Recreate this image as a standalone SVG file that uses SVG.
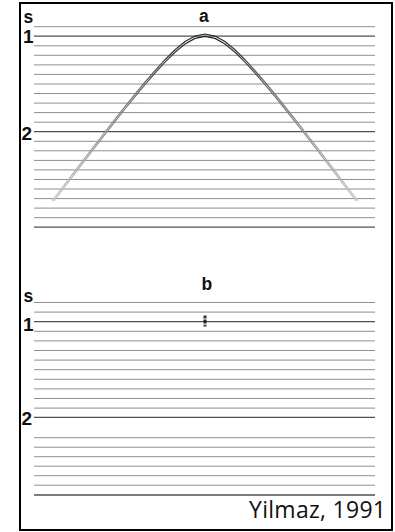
<svg xmlns="http://www.w3.org/2000/svg" width="395" height="532" viewBox="0 0 395 532">
  <defs>
    <style>
      .ln { stroke: #8e8e8e; stroke-width: 1; fill: none; }
      .lk { stroke: #505050; stroke-width: 1.3; fill: none; }
      .lab { font-family: "Liberation Sans", Arial, sans-serif; font-weight: bold; font-size: 19px; fill: #111; }
      .cap { font-family: "Liberation Sans", Arial, sans-serif; font-weight: bold; font-size: 17.5px; fill: #111; }
      .crv { fill: none; stroke: url(#fade); stroke-width: 1.2; }
    </style>
    <linearGradient id="fade" gradientUnits="userSpaceOnUse" x1="0" y1="34" x2="0" y2="202">
      <stop offset="0" stop-color="#222"/>
      <stop offset="0.4" stop-color="#777"/>
      <stop offset="1" stop-color="#c8c8c8"/>
    </linearGradient>
  </defs>
  <rect x="0" y="0" width="395" height="532" fill="#fff"/>
  <rect id="frame" x="20" y="3" width="372" height="527" fill="none" stroke="#000" stroke-width="2"/>

  <g id="panel-a">
    <g id="lines-a">
      <line class="ln" x1="34" y1="26.7" x2="375" y2="26.7"/>
      <line class="lk" x1="34" y1="36.2" x2="375" y2="36.2"/>
      <line class="ln" x1="34" y1="45.8" x2="375" y2="45.8"/>
      <line class="ln" x1="34" y1="55.3" x2="375" y2="55.3"/>
      <line class="ln" x1="34" y1="64.9" x2="375" y2="64.9"/>
      <line class="ln" x1="34" y1="74.4" x2="375" y2="74.4"/>
      <line class="ln" x1="34" y1="84.0" x2="375" y2="84.0"/>
      <line class="ln" x1="34" y1="93.5" x2="375" y2="93.5"/>
      <line class="ln" x1="34" y1="103.1" x2="375" y2="103.1"/>
      <line class="ln" x1="34" y1="112.6" x2="375" y2="112.6"/>
      <line class="ln" x1="34" y1="122.2" x2="375" y2="122.2"/>
      <line class="lk" x1="34" y1="131.7" x2="375" y2="131.7"/>
      <line class="ln" x1="34" y1="141.3" x2="375" y2="141.3"/>
      <line class="ln" x1="34" y1="150.8" x2="375" y2="150.8"/>
      <line class="ln" x1="34" y1="160.4" x2="375" y2="160.4"/>
      <line class="ln" x1="34" y1="169.9" x2="375" y2="169.9"/>
      <line class="ln" x1="34" y1="179.5" x2="375" y2="179.5"/>
      <line class="ln" x1="34" y1="189.0" x2="375" y2="189.0"/>
      <line class="ln" x1="34" y1="198.6" x2="375" y2="198.6"/>
      <line class="ln" x1="34" y1="208.1" x2="375" y2="208.1"/>
      <line class="ln" x1="34" y1="217.7" x2="375" y2="217.7"/>
      <line class="lk" x1="34" y1="227.2" x2="375" y2="227.2"/>
    </g>
    <g id="hyperbola">
      <path class="crv" d="M52,201.2 L55,197.2 L65,184.1 L75,170.9 L85,157.9 L95,144.9 L105,132 L115,119.2 L125,106.6 L135,94.2 L145,82.2 L155,70.6 L165,59.7 L175,49.8 L185,41.6 L195,36 L205,34 L215,36 L225,41.6 L235,49.8 L245,59.7 L255,70.6 L265,82.2 L275,94.2 L285,106.6 L295,119.2 L305,132 L315,144.9 L325,157.9 L335,170.9 L345,184.1 L355,197.2 L358,201.2"/>
      <path class="crv" transform="translate(0,2.4)" d="M54,198.8 L55,197.2 L65,184.1 L75,170.9 L85,157.9 L95,144.9 L105,132 L115,119.2 L125,106.6 L135,94.2 L145,82.2 L155,70.6 L165,59.7 L175,49.8 L185,41.6 L195,36 L205,34 L215,36 L225,41.6 L235,49.8 L245,59.7 L255,70.6 L265,82.2 L275,94.2 L285,106.6 L295,119.2 L305,132 L315,144.9 L325,157.9 L335,170.9 L345,184.1 L355,197.2 L356,198.8"/>
    </g>
    <g id="labels-a">
      <text class="cap" x="23.5" y="23">s</text>
      <text class="cap" x="199" y="22">a</text>
      <text class="lab" x="23" y="43">1</text>
      <text class="lab" x="21.5" y="139.5">2</text>
    </g>
  </g>

  <g id="panel-b">
    <g id="lines-b">
      <line class="ln" x1="34" y1="302.5" x2="375" y2="302.5"/>
      <line class="ln" x1="34" y1="312.1" x2="375" y2="312.1"/>
      <line class="lk" x1="34" y1="321.7" x2="375" y2="321.7"/>
      <line class="ln" x1="34" y1="331.3" x2="375" y2="331.3"/>
      <line class="ln" x1="34" y1="340.9" x2="375" y2="340.9"/>
      <line class="ln" x1="34" y1="350.5" x2="375" y2="350.5"/>
      <line class="ln" x1="34" y1="360.1" x2="375" y2="360.1"/>
      <line class="ln" x1="34" y1="369.7" x2="375" y2="369.7"/>
      <line class="ln" x1="34" y1="379.3" x2="375" y2="379.3"/>
      <line class="ln" x1="34" y1="388.9" x2="375" y2="388.9"/>
      <line class="ln" x1="34" y1="398.5" x2="375" y2="398.5"/>
      <line class="ln" x1="34" y1="408.1" x2="375" y2="408.1"/>
      <line class="lk" x1="34" y1="417.4" x2="375" y2="417.4"/>
      <line class="ln" x1="34" y1="437.7" x2="375" y2="437.7"/>
      <line class="ln" x1="34" y1="447.2" x2="375" y2="447.2"/>
      <line class="ln" x1="34" y1="456.7" x2="375" y2="456.7"/>
      <line class="ln" x1="34" y1="466.2" x2="375" y2="466.2"/>
      <line class="ln" x1="34" y1="475.7" x2="375" y2="475.7"/>
      <line class="ln" x1="34" y1="485.2" x2="375" y2="485.2"/>
      <line class="lk" x1="34" y1="495" x2="375" y2="495"/>
    </g>
    <g id="focus-point">
      <rect x="203.5" y="315.5" width="3" height="3" fill="#333"/>
      <rect x="203.5" y="318.5" width="3" height="1.5" fill="#999"/>
      <rect x="203.5" y="320" width="3" height="3.5" fill="#222"/>
      <rect x="203.5" y="323.5" width="3" height="1.2" fill="#aaa"/>
      <rect x="203.5" y="324.7" width="3" height="2" fill="#555"/>
    </g>
    <g id="labels-b">
      <text class="cap" x="23.5" y="301.5">s</text>
      <text class="cap" x="201.5" y="290">b</text>
      <text class="lab" x="23" y="331">1</text>
      <text class="lab" x="21.5" y="424.5">2</text>
    </g>
  </g>

  <text id="credit" x="249" y="518" font-family="'Open Sans', 'Noto Sans', sans-serif" font-size="23" fill="#111" textLength="137" lengthAdjust="spacing">Yilmaz, 1991</text>
</svg>
